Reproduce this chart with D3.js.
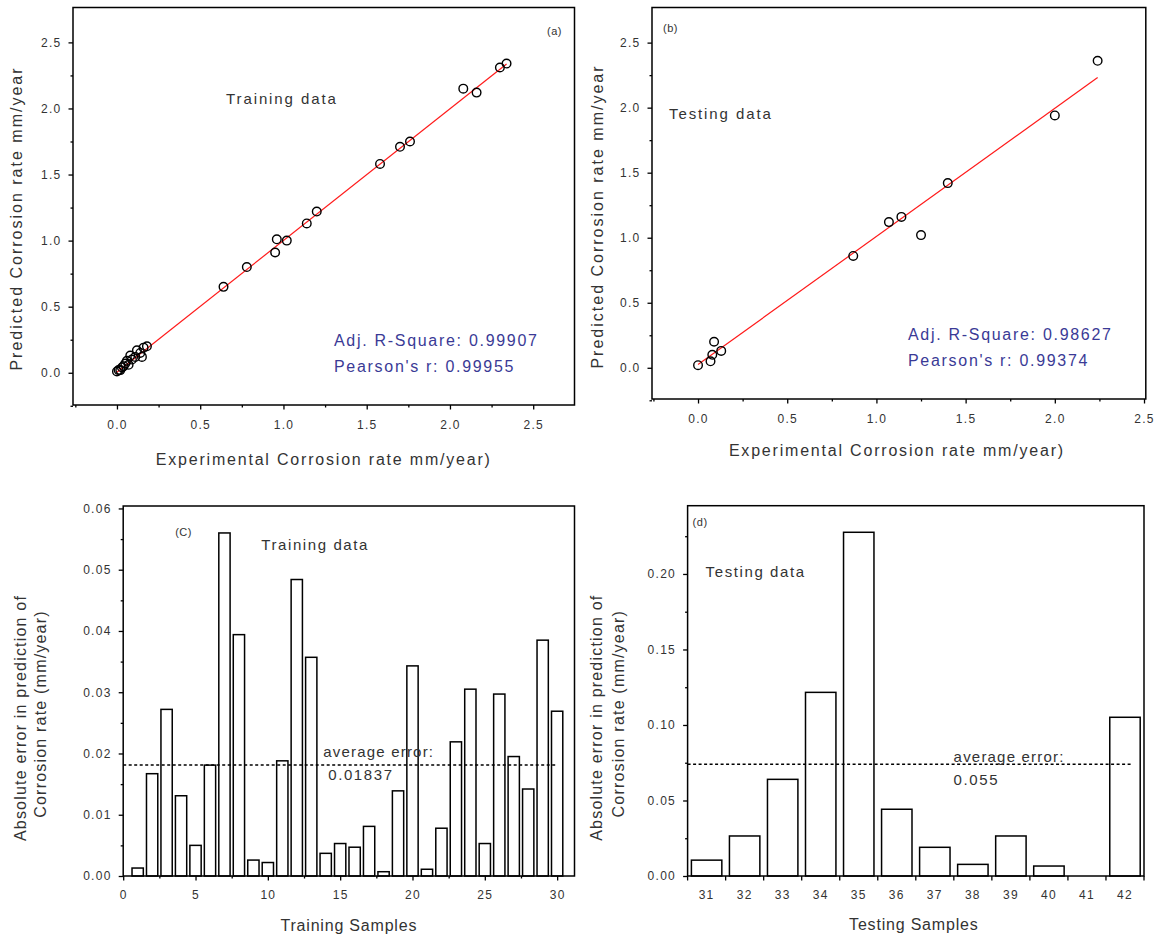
<!DOCTYPE html>
<html>
<head>
<meta charset="utf-8">
<script src="https://cdn.jsdelivr.net/npm/d3@7"></script>
<style>
  body { margin: 0; background: #fff; }
  text { font-family: "Liberation Sans", Arial, sans-serif; }
</style>
</head>
<body>
<div id="chart"></div>
<script>
// ---- data ----
// (a) training: experimental vs predicted corrosion rate
const trainExp  = [0.00, 0.01, 0.02, 0.03, 0.04, 0.05, 0.06, 0.07, 0.08, 0.09, 0.11, 0.12, 0.14, 0.15, 0.16, 0.18,
                   0.64, 0.78, 0.95, 0.96, 1.02, 1.14, 1.20, 1.58, 1.70, 1.76, 2.08, 2.16, 2.30, 2.34];
const trainPred = [0.01, 0.02, 0.02, 0.04, 0.05, 0.07, 0.09, 0.06, 0.13, 0.10, 0.12, 0.17, 0.15, 0.12, 0.19, 0.20,
                   0.65, 0.80, 0.91, 1.01, 1.00, 1.13, 1.22, 1.58, 1.71, 1.75, 2.15, 2.12, 2.31, 2.34];
const trainFitRange = [0.0, 2.34];
const trainFitSlope = 0.997;
const trainFitIntercept = 0.004;

// (b) testing
const testExp  = [0.00, 0.07, 0.08, 0.09, 0.13, 0.87, 1.07, 1.14, 1.25, 1.40, 2.00, 2.24];
const testPred = [0.02, 0.05, 0.10, 0.20, 0.13, 0.86, 1.12, 1.16, 1.02, 1.42, 1.94, 2.36];
const testFitRange = [0.0, 2.24];
const testFitSlope = 0.985;
const testFitIntercept = 0.025;

const scatterTicks = [0.0, 0.5, 1.0, 1.5, 2.0, 2.5];
const scatterMinor = [-0.25, 0.25, 0.75, 1.25, 1.75, 2.25];

// (c) absolute error, training samples 1..30
const trainSamples = [1, 2, 3, 4, 5, 6, 7, 8, 9, 10, 11, 12, 13, 14, 15, 16, 17, 18, 19, 20,
                      21, 22, 23, 24, 25, 26, 27, 28, 29, 30];
const trainError = [0.0013, 0.0167, 0.0272, 0.0131, 0.0050, 0.0181, 0.0560, 0.0394, 0.0026, 0.0022,
                    0.0188, 0.0484, 0.0357, 0.0037, 0.0053, 0.0047, 0.0081, 0.0007, 0.0139, 0.0343,
                    0.0011, 0.0078, 0.0219, 0.0305, 0.0053, 0.0297, 0.0195, 0.0142, 0.0385, 0.0269];
const trainAvgLevel = 0.0181;
const trainAvgLabel = "0.01837";
const trainXTicks = [0, 5, 10, 15, 20, 25, 30];
const trainXMinor = [2.5, 7.5, 12.5, 17.5, 22.5, 27.5];
const trainYTicks = [0.00, 0.01, 0.02, 0.03, 0.04, 0.05, 0.06];
const trainYMinor = [0.005, 0.015, 0.025, 0.035, 0.045, 0.055];

// (d) absolute error, testing samples 31..42
const testSamples = ["31", "32", "33", "34", "35", "36", "37", "38", "39", "40", "41", "42"];
const testError = [0.0105, 0.0265, 0.0640, 0.1216, 0.2276, 0.0442, 0.0190, 0.0077, 0.0265, 0.0066, 0.0, 0.1051];
const testAvgLevel = 0.074;
const testAvgLabel = "0.055";
const testYTicks = [0.00, 0.05, 0.10, 0.15, 0.20];
const testYMinor = [0.025, 0.075, 0.125, 0.175, 0.225];

// ---- drawing ----
const svg = d3.select("#chart").append("svg")
    .attr("width", 1158)
    .attr("height", 936);

const txt = "#333";

function styleAxis(ax) {
    ax.select(".domain").remove();
    ax.selectAll(".tick line").attr("stroke", "#000").attr("stroke-width", 1.3);
    ax.selectAll("text")
        .attr("fill", txt)
        .style("font-size", "12px")
        .style("letter-spacing", "1.3px");
}

function addAxes(g, x, y, h, o) {
    // minor ticks first
    styleAxis(g.append("g").attr("transform", `translate(0,${h})`)
        .call(d3.axisBottom(x).tickValues(o.xMinor).tickSize(2.5).tickFormat("")));
    styleAxis(g.append("g")
        .call(d3.axisLeft(y).tickValues(o.yMinor).tickSize(2.5).tickFormat("")));
    styleAxis(g.append("g").attr("transform", `translate(0,${h})`)
        .call(d3.axisBottom(x).tickValues(o.xTicks).tickSize(4.5).tickPadding(o.xPad).tickFormat(o.xFmt)));
    styleAxis(g.append("g")
        .call(d3.axisLeft(y).tickValues(o.yTicks).tickSize(4.5).tickPadding(o.yPad).tickFormat(o.yFmt)));
}

function frame(g, w, h) {
    g.append("rect")
        .attr("width", w).attr("height", h)
        .attr("fill", "none")
        .attr("stroke", "#000")
        .attr("stroke-width", 1.5);
}

function label(g, x, y, s, size, ls, color, anchor) {
    return g.append("text")
        .attr("x", x).attr("y", y)
        .attr("dy", "0.35em")
        .attr("text-anchor", anchor || "start")
        .attr("fill", color || txt)
        .style("font-size", size + "px")
        .style("letter-spacing", ls + "px")
        .text(s);
}

function vlabel(g, x, y, s, size, ls) {
    return g.append("text")
        .attr("transform", `translate(${x},${y}) rotate(-90)`)
        .attr("dy", "0.35em")
        .attr("text-anchor", "middle")
        .attr("fill", txt)
        .style("font-size", size + "px")
        .style("letter-spacing", ls + "px")
        .text(s);
}

function scatterPanel(p) {
    const w = p.right - p.left, h = p.bottom - p.top;
    const g = svg.append("g").attr("transform", `translate(${p.left},${p.top})`);
    const x = d3.scaleLinear().domain(p.xDomain).range([0, w]);
    const y = d3.scaleLinear().domain(p.yDomain).range([h, 0]);

    addAxes(g, x, y, h, {
        xTicks: scatterTicks, xMinor: scatterMinor, yTicks: scatterTicks, yMinor: scatterMinor,
        xFmt: d3.format(".1f"), yFmt: d3.format(".1f"), xPad: 11, yPad: 7
    });
    frame(g, w, h);

    const fitY = v => p.fitSlope * v + p.fitIntercept;
    g.append("path")
        .datum(p.fitRange)
        .attr("fill", "none")
        .attr("stroke", "#ff1a1a")
        .attr("stroke-width", 1.2)
        .attr("d", d3.line().x(d => x(d)).y(d => y(fitY(d))));

    g.selectAll("circle.pt")
        .data(p.xs)
        .enter()
        .append("circle")
        .attr("class", "pt")
        .attr("cx", d => x(d))
        .attr("cy", (d, i) => y(p.ys[i]))
        .attr("r", 4.3)
        .attr("fill", "none")
        .attr("stroke", "#000")
        .attr("stroke-width", 1.4);

    label(g, p.tag[0], p.tag[1], p.tag[2], 11, 0.5);
    label(g, p.name[0], p.name[1], p.name[2], 15, 1.9);
    label(g, p.stats[0], p.stats[1], p.stats[2], 16, 1.7, "#3a3a96");
    label(g, p.stats[0], p.stats[1] + 26, p.stats[3], 16, 1.7, "#3a3a96");

    label(g, w / 2 + p.xTitleShift, p.xTitleY, "Experimental Corrosion rate mm/year)", 16, 1.8, txt, "middle");
    vlabel(g, p.yTitleX, p.yTitleY, "Predicted Corrosion rate mm/year", 16, 2.0);
}

scatterPanel({
    left: 73, right: 574.5, top: 7.5, bottom: 405,
    xDomain: [-0.264, 2.748], yDomain: [-0.244, 2.764],
    xs: trainExp, ys: trainPred,
    fitRange: trainFitRange, fitSlope: trainFitSlope, fitIntercept: trainFitIntercept,
    tag: [474, 24, "(a)"],
    name: [153, 91, "Training data"],
    stats: [261, 333, "Adj. R-Square: 0.99907", "Pearson's r: 0.99955"],
    xTitleShift: 0, xTitleY: 452, yTitleX: -57, yTitleY: 211
});

scatterPanel({
    left: 652, right: 1145.8, top: 7.5, bottom: 399,
    xDomain: [-0.258, 2.51], yDomain: [-0.24, 2.77],
    xs: testExp, ys: testPred,
    fitRange: testFitRange, fitSlope: testFitSlope, fitIntercept: testFitIntercept,
    tag: [11, 21, "(b)"],
    name: [17, 106, "Testing data"],
    stats: [256, 327, "Adj. R-Square: 0.98627", "Pearson's r: 0.99374"],
    xTitleShift: -2, xTitleY: 443, yTitleX: -55, yTitleY: 209
});

function errorLabels(g, p) {
    label(g, p.tag[0], p.tag[1], p.tag[2], 11, 0.5);
    label(g, p.name[0], p.name[1], p.name[2], 15, 1.6);
    label(g, p.avg[0], p.avg[1], "average error:", 15, 1.2);
    label(g, p.avg[0] + p.avg[2], p.avg[1] + 23, p.avgLabel, 15, 1.6);
}

// (c) training errors
(function () {
    const p = { left: 123.2, right: 574.5, top: 506, bottom: 876 };
    const w = p.right - p.left, h = p.bottom - p.top;
    const g = svg.append("g").attr("transform", `translate(${p.left},${p.top})`);
    const x = d3.scaleLinear().domain([0, 31.2]).range([0, w]);
    const y = d3.scaleLinear().domain([0, 0.0604]).range([h, 0]);

    addAxes(g, x, y, h, {
        xTicks: trainXTicks, xMinor: trainXMinor, yTicks: trainYTicks, yMinor: trainYMinor,
        xFmt: d3.format("d"), yFmt: d3.format(".2f"), xPad: 10, yPad: 7
    });

    const bw = x(0.78) - x(0);
    g.selectAll("rect.bar")
        .data(trainError)
        .enter()
        .append("rect")
        .attr("class", "bar")
        .attr("x", (d, i) => x(trainSamples[i]) - bw / 2)
        .attr("y", d => y(d))
        .attr("width", bw)
        .attr("height", d => h - y(d))
        .attr("fill", "#fff")
        .attr("stroke", "#000")
        .attr("stroke-width", 1.5);

    g.append("line")
        .attr("x1", x(0)).attr("x2", x(30))
        .attr("y1", y(trainAvgLevel)).attr("y2", y(trainAvgLevel))
        .attr("stroke", "#000")
        .attr("stroke-width", 1.5)
        .attr("stroke-dasharray", "3,2.5");

    frame(g, w, h);
    errorLabels(g, {
        tag: [52, 26, "(C)"], name: [138, 39, "Training data"],
        avg: [200, 246, 5], avgLabel: trainAvgLabel
    });

    label(g, w / 2, 419, "Training Samples", 16, 0.8, txt, "middle");
    vlabel(g, -103, 212, "Absolute error in prediction of", 16, 1.2);
    vlabel(g, -83, 208, "Corrosion rate (mm/year)", 16, 1.2);
})();

// (d) testing errors
(function () {
    const p = { left: 687.6, right: 1144, top: 505.7, bottom: 876 };
    const w = p.right - p.left, h = p.bottom - p.top;
    const g = svg.append("g").attr("transform", `translate(${p.left},${p.top})`);
    const x = d3.scaleBand().domain(testSamples).range([0, w]).paddingInner(0.2).paddingOuter(0.1);
    const y = d3.scaleLinear().domain([0, 0.2452]).range([h, 0]);

    styleAxis(g.append("g")
        .call(d3.axisLeft(y).tickValues(testYMinor).tickSize(2.5).tickFormat("")));
    styleAxis(g.append("g")
        .call(d3.axisLeft(y).tickValues(testYTicks).tickSize(4.5).tickPadding(7).tickFormat(d3.format(".2f"))));
    // category labels at band centres, tick marks at band edges
    styleAxis(g.append("g").attr("transform", `translate(0,${h})`)
        .call(d3.axisBottom(x).tickSize(0).tickPadding(14.5)));
    const edges = testSamples.map(d => x(d) - x.step() * x.paddingInner() / 2).concat([w]);
    g.selectAll("line.edge")
        .data(edges)
        .enter()
        .append("line")
        .attr("class", "edge")
        .attr("x1", d => d).attr("x2", d => d)
        .attr("y1", h).attr("y2", h + 4.5)
        .attr("stroke", "#000")
        .attr("stroke-width", 1.3);

    g.selectAll("rect.bar")
        .data(testError)
        .enter()
        .append("rect")
        .attr("class", "bar")
        .attr("x", (d, i) => x(testSamples[i]))
        .attr("y", d => y(d))
        .attr("width", x.bandwidth())
        .attr("height", d => h - y(d))
        .attr("fill", "#fff")
        .attr("stroke", "#000")
        .attr("stroke-width", 1.5)
        .attr("visibility", d => d > 0 ? "visible" : "hidden");

    g.append("line")
        .attr("x1", 0).attr("x2", x("42") + x.bandwidth() * 0.72)
        .attr("y1", y(testAvgLevel)).attr("y2", y(testAvgLevel))
        .attr("stroke", "#000")
        .attr("stroke-width", 1.5)
        .attr("stroke-dasharray", "3,2.5");

    frame(g, w, h);
    errorLabels(g, {
        tag: [5, 16, "(d)"], name: [18, 66, "Testing data"],
        avg: [266, 251, 0], avgLabel: testAvgLabel
    });

    label(g, w / 2 - 2, 419, "Testing Samples", 16, 0.8, txt, "middle");
    vlabel(g, -91, 212, "Absolute error in prediction of", 16, 1.2);
    vlabel(g, -69, 208, "Corrosion rate (mm/year)", 16, 1.2);
})();
</script>
</body>
</html>
